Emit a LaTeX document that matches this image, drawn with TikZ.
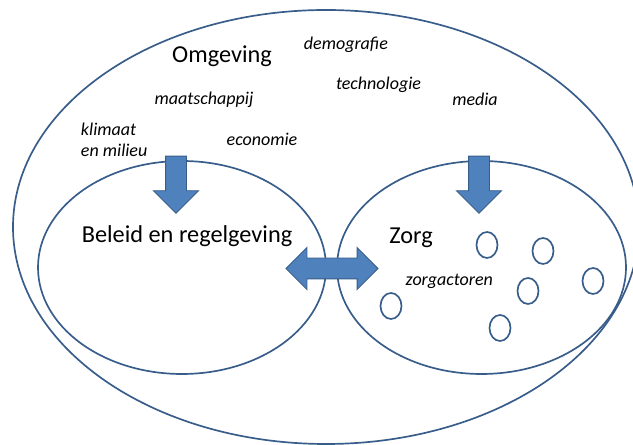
\documentclass[tikz,border=0pt]{standalone}
\usepackage{fontspec}
\setmainfont{Carlito}
\usetikzlibrary{shapes.geometric,shapes.arrows}
\definecolor{lijn}{RGB}{56,93,138}
\definecolor{blok}{RGB}{79,129,189}

\begin{document}
\begin{tikzpicture}[
    kring/.style={ellipse, draw=lijn, line width=1.2pt, inner sep=0pt},
    actor/.style={kring, minimum width=0.525cm, minimum height=0.65cm},
    pijl/.style={single arrow, draw=lijn, fill=blok, line width=0.7pt, inner xsep=0pt, inner ysep=0.25cm, minimum height=1.425cm, single arrow head extend=0.3cm, rotate=-90},
    groot/.style={font=\fontsize{17.3}{20}\selectfont, anchor=base},
    klein/.style={font=\fontsize{12.8}{15.4}\selectfont\itshape, anchor=base}
]
\useasboundingbox (0,0) rectangle (15.825,11.125);

%% Domeinen

\node[kring, minimum width=15.65cm, minimum height=10.85cm](omg) at (8.15,5.45){};
\node[kring, minimum width=7.2cm, minimum height=5.325cm](bel) at (4.55,4.4375){};
\node[kring, minimum width=7.225cm, minimum height=5.325cm](zorg) at (12.0375,4.4375){};

% Zorgactoren
\node[actor](a1) at (12.175,5.0){};
\node[actor](a2) at (13.575,4.85){};
\node[actor](a3) at (14.825,4.1){};
\node[actor](a4) at (13.2,3.85){};
\node[actor](a5) at (9.775,3.475){};
\node[actor](a6) at (12.5,2.925){};

% Pijlen
\node[pijl](d1) at (4.4,6.6375){};
\node[pijl](d2) at (11.975,6.6375){};
\node[double arrow, draw=lijn, fill=blok, line width=0.7pt, inner xsep=0pt, inner ysep=0.25cm, minimum height=2.3cm, double arrow head extend=0.2625cm](h1) at (8.3,4.4125){};

% Teksten
\node[groot](t1) at (5.55,9.5575){Omgeving};
\node[klein](t2) at (8.65,9.8925){demografie};
\node[klein](t3) at (9.4625,8.875){technologie};
\node[klein](t4) at (11.875,8.475){media};
\node[klein](t5) at (5.1,8.5){maatschappij};
\node[klein, anchor=base west, align=left, inner sep=0pt](t6) at (2.0175,7.2075){klimaat\\en milieu};
\node[klein](t7) at (6.55,7.475){economie};
\node[groot](t8) at (4.675,5.0625){Beleid en regelgeving};
\node[groot](t9) at (10.275,5.0375){Zorg};
\node[klein](t10) at (11.2325,3.975){zorgactoren};

\end{tikzpicture}
\end{document}
